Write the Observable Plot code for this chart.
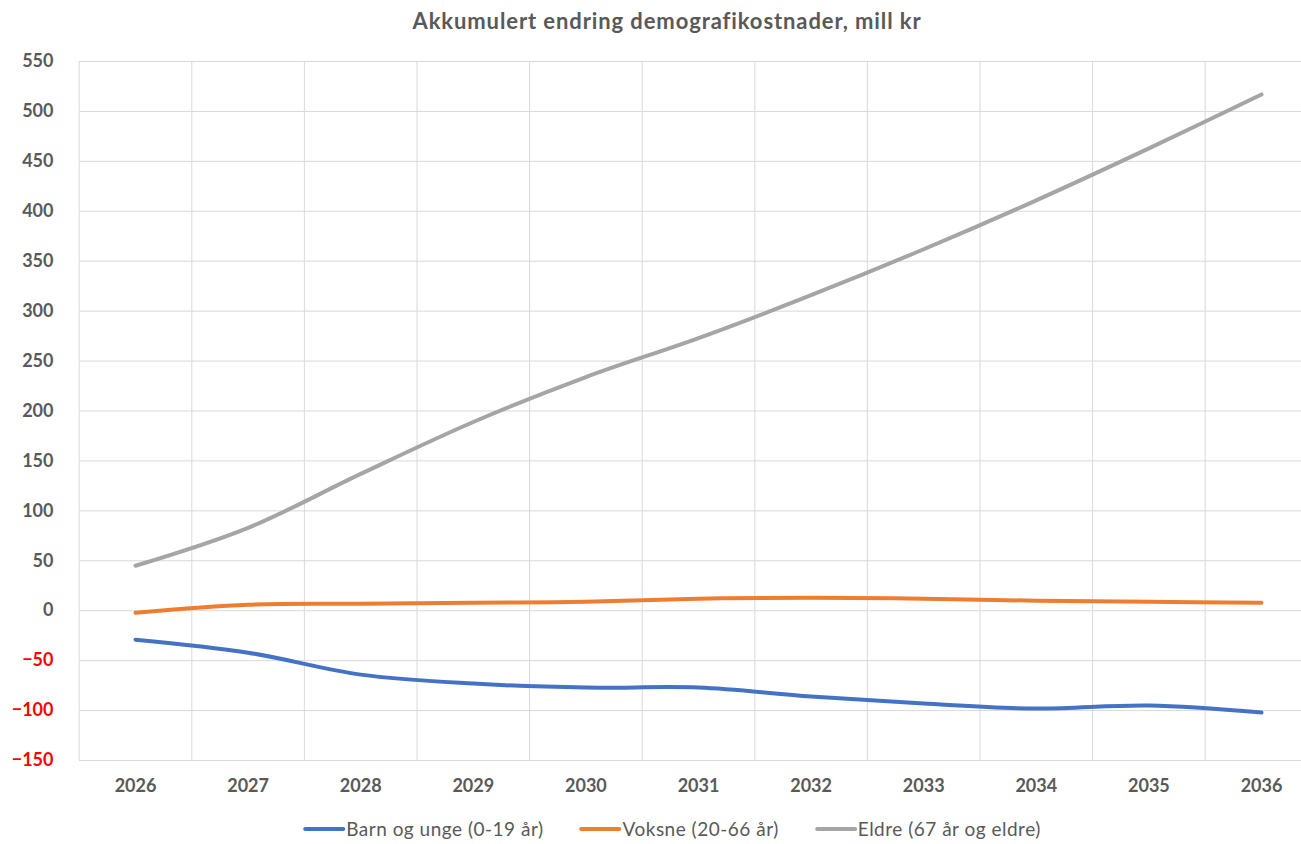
<!DOCTYPE html>
<html><head><meta charset="utf-8">
<script src="https://cdn.jsdelivr.net/npm/d3@7"></script>
<script src="https://cdn.jsdelivr.net/npm/@observablehq/plot@0.6"></script>
<style>
body{margin:0;background:#fff;font-family:Lato,sans-serif;}
#wrap{position:relative;width:1301px;height:844px;overflow:hidden;background:#fff;}
#title{position:absolute;top:7px;left:667px;transform:translateX(-50%);white-space:nowrap;font-weight:bold;font-size:22px;letter-spacing:0.9px;color:#595959;}
#chart{position:absolute;top:0;left:0;}
#legend{position:absolute;top:817px;left:672px;transform:translateX(-50%);display:flex;white-space:nowrap;font-size:19px;letter-spacing:0.5px;color:#595959;}
.item{display:flex;align-items:center;margin:0 18px;}
.sw{width:42px;height:4px;margin-right:1px;border-radius:2px;}
</style></head><body>
<div id="wrap"><div id="title">Akkumulert endring demografikostnader, mill kr</div><div id="chart"></div><div id="legend"></div></div>
<script>
const years = [2026, 2027, 2028, 2029, 2030, 2031, 2032, 2033, 2034, 2035, 2036];
const barn = [-29, -42, -64, -73, -77, -77, -86, -93, -98, -95, -102];
const voksne = [-2, 6, 7, 8, 9, 12, 13, 12, 10, 9, 8];
const eldre = [45, 83, 137, 189, 234, 273, 316, 362, 411, 463, 517];
const seriesNames = ["Barn og unge (0-19 år)", "Voksne (20-66 år)", "Eldre (67 år og eldre)"];
const seriesColors = ["#4472C4", "#ED7D31", "#A5A5A5"];
const yTicks = [-150, -100, -50, 0, 50, 100, 150, 200, 250, 300, 350, 400, 450, 500, 550];

const seriesValues = [barn, voksne, eldre];
const rowsFor = (vals) => years.map((yr, i) => ({year: yr, value: vals[i]}));
const gridX = years.map(y => y - 0.5).concat([years[years.length - 1] + 0.5]);

const axisStyle = {tickSize: 0, fontSize: 18, fontWeight: "bold", label: null};

const chart = Plot.plot({
  width: 1301,
  height: 805,
  marginTop: 61,
  marginBottom: 45,
  marginLeft: 79,
  marginRight: 0,
  style: {fontFamily: "Lato, sans-serif", background: "transparent"},
  x: {type: "linear", domain: [2025.5, 2036.5], range: [78.7, 1317.3], label: null},
  y: {domain: [-150, 550], label: null},
  marks: [
    Plot.ruleY(yTicks, {stroke: "#d9d9d9", strokeWidth: 1}),
    Plot.ruleX(gridX, {y1: -150, y2: 550, stroke: "#d9d9d9", strokeWidth: 1}),
    Plot.axisY(yTicks.filter(v => v >= 0), {...axisStyle, tickPadding: 26, color: "#595959"}),
    Plot.axisY(yTicks.filter(v => v < 0), {...axisStyle, tickPadding: 26, color: "#FF0000"}),
    Plot.axisX(years, {...axisStyle, tickPadding: 19, color: "#595959", tickFormat: d => String(d)}),
    ...seriesValues.map((vals, i) => Plot.line(rowsFor(vals), {
      x: "year", y: "value", stroke: seriesColors[i], strokeWidth: 4,
      curve: "catmull-rom", strokeLinecap: "round", strokeLinejoin: "round"
    }))
  ]
});
document.getElementById("chart").appendChild(chart);

const legend = document.getElementById("legend");
seriesNames.forEach((name, i) => {
  const item = document.createElement("div");
  item.className = "item";
  const sw = document.createElement("span");
  sw.className = "sw";
  sw.style.background = seriesColors[i];
  const t = document.createElement("span");
  t.textContent = name;
  item.appendChild(sw);
  item.appendChild(t);
  legend.appendChild(item);
});
</script>
</body></html>
